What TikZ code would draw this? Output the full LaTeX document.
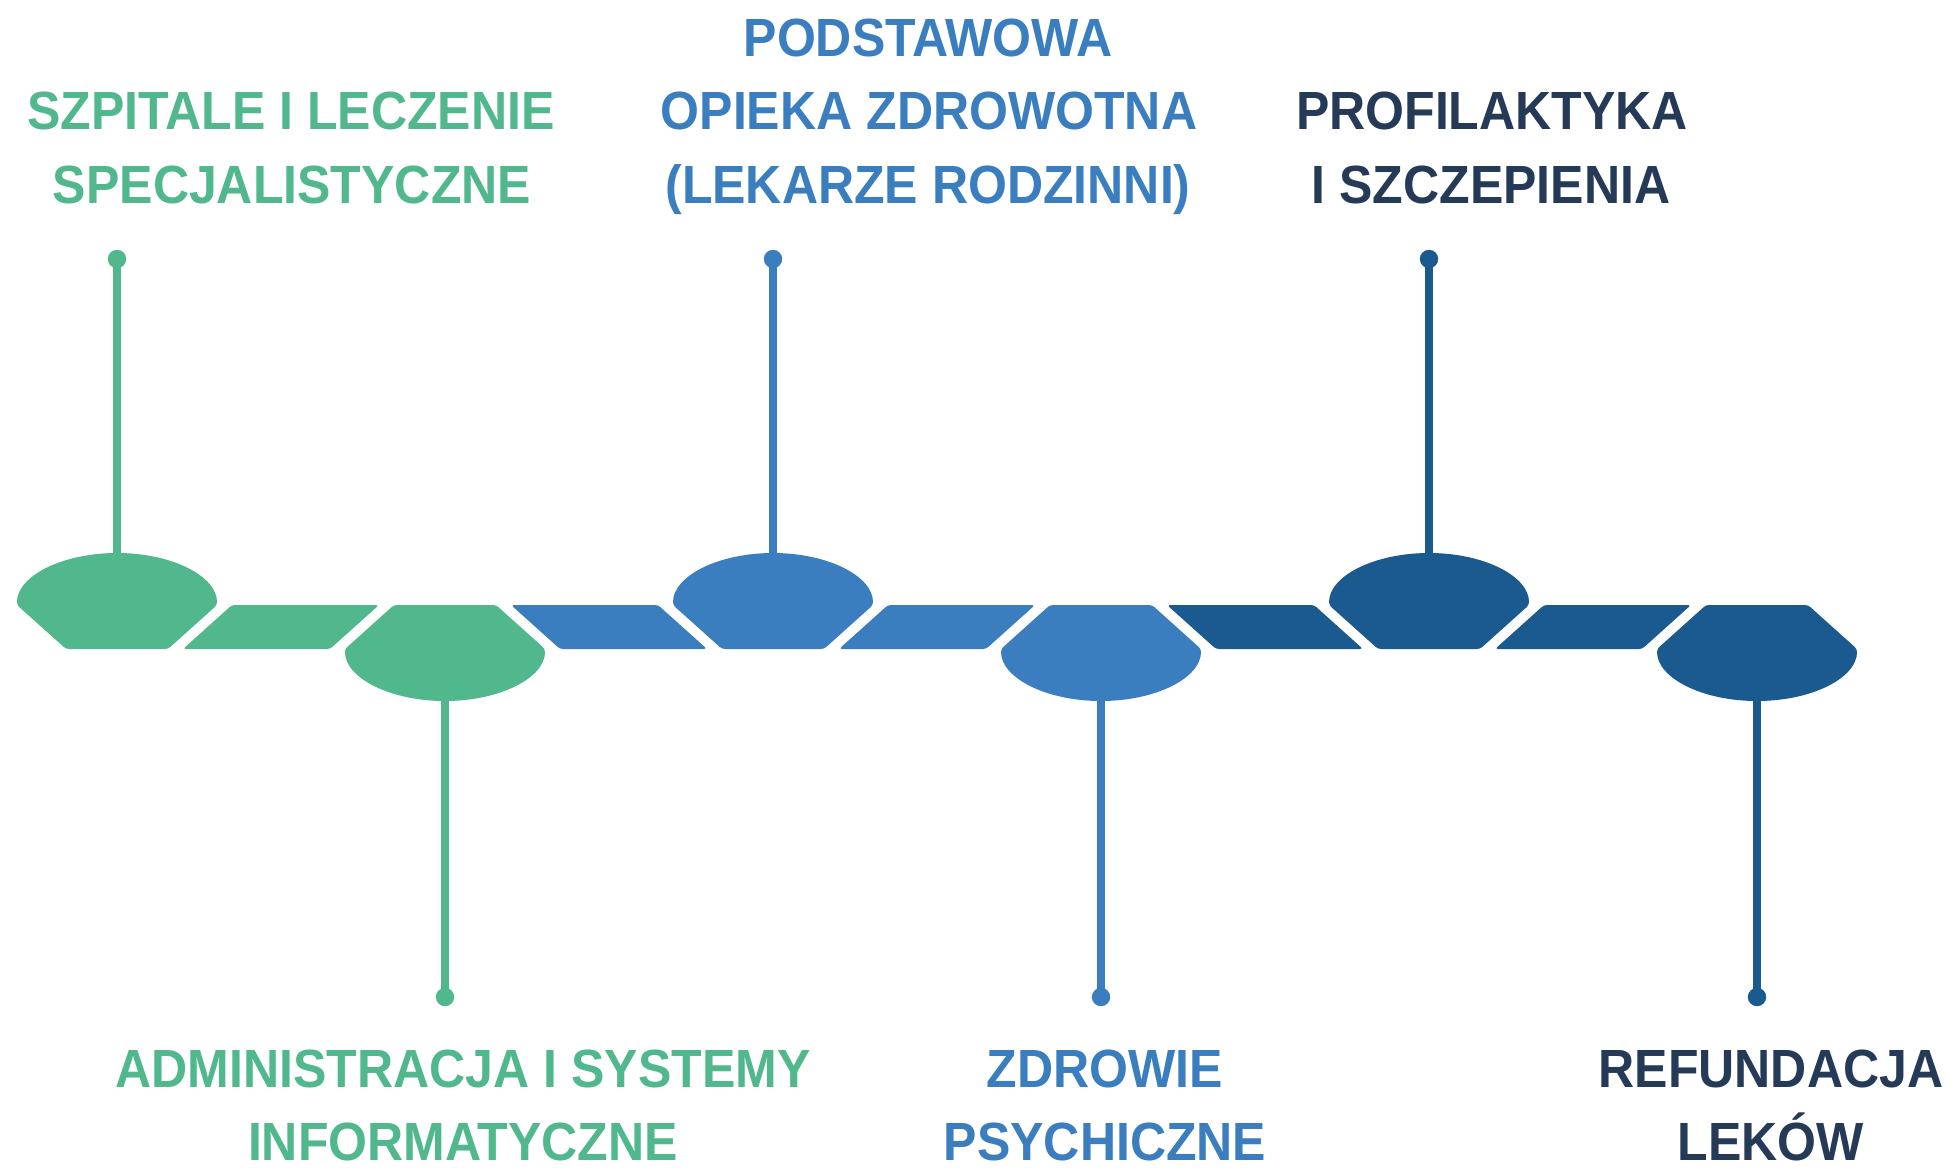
\documentclass[tikz,border=0pt]{standalone}
\usepackage{fontspec}
\newfontfamily\lblfont[FakeStretch=0.93]{Liberation Sans}
\definecolor{cgreen}{HTML}{50B88C}
\definecolor{cblue}{HTML}{3A7EBF}
\definecolor{cdark}{HTML}{1A5A8E}
\definecolor{tdark}{HTML}{243A56}
\tikzset{
  seg/.style={rounded corners=1.5pt},
  stem/.style={line width=3.6pt},
  dotnode/.style={circle, inner sep=0pt, minimum size=9.2pt},
  lbl/.style={anchor=base, inner sep=0pt, font=\lblfont\bfseries\fontsize{26.9pt}{32pt}\selectfont},
}
\newcommand{\topshape}[2]{% #1 centre x, #2 colour
  \fill[seg,#2] (#1-100,605) arc[start angle=180,end angle=0,x radius=50pt,y radius=26pt]
     -- (#1+51,649) -- (#1-51,649) -- cycle;}
\newcommand{\botshape}[2]{%
  \fill[seg,#2] (#1-51,605) -- (#1+51,605) -- (#1+100,649)
     arc[start angle=0,end angle=-180,x radius=50pt,y radius=26pt] -- cycle;}
\newcommand{\slashpar}[2]{% after a top shape
  \fill[seg,#2] (#1+115,605) -- (#1+262,605) -- (#1+213,649) -- (#1+66,649) -- cycle;}
\newcommand{\bslashpar}[2]{% after a bottom shape
  \fill[seg,#2] (#1+66,605) -- (#1+213,605) -- (#1+262,649) -- (#1+115,649) -- cycle;}
\begin{document}
\begin{tikzpicture}[x=0.5pt,y=-0.5pt]
\useasboundingbox (0,0) rectangle (1952,1167);
% band
\topshape{117}{cgreen}
\slashpar{117}{cgreen}
\botshape{445}{cgreen}
\bslashpar{445}{cblue}
\topshape{773}{cblue}
\slashpar{773}{cblue}
\botshape{1101}{cblue}
\bslashpar{1101}{cdark}
\topshape{1429}{cdark}
\slashpar{1429}{cdark}
\botshape{1757}{cdark}
% stems and dots
\coordinate (t1) at (117,553);
\coordinate (t2) at (445,701);
\coordinate (t3) at (773,553);
\coordinate (t4) at (1101,701);
\coordinate (t5) at (1429,553);
\coordinate (t6) at (1757,701);
\node[dotnode, fill=cgreen] (d1) at (117,259) {};
\node[dotnode, fill=cgreen] (d2) at (445,997) {};
\node[dotnode, fill=cblue] (d3) at (773,259) {};
\node[dotnode, fill=cblue] (d4) at (1101,997) {};
\node[dotnode, fill=cdark] (d5) at (1429,259) {};
\node[dotnode, fill=cdark] (d6) at (1757,997) {};
\draw[stem, cgreen] (t1) -- (d1.center);
\draw[stem, cgreen] (t2) -- (d2.center);
\draw[stem, cblue] (t3) -- (d3.center);
\draw[stem, cblue] (t4) -- (d4.center);
\draw[stem, cdark] (t5) -- (d5.center);
\draw[stem, cdark] (t6) -- (d6.center);
% labels
\node[lbl, text=cgreen] (l1a) at (291,129) {SZPITALE I LECZENIE};
\node[lbl, text=cgreen] (l1b) at (292,203) {SPECJALISTYCZNE};
\node[lbl, text=cblue] (l3a) at (928,56) {PODSTAWOWA};
\node[lbl, text=cblue] (l3b) at (929,129) {OPIEKA ZDROWOTNA};
\node[lbl, text=cblue] (l3c) at (928,203) {(LEKARZE RODZINNI)};
\node[lbl, text=tdark] (l5a) at (1492,129) {PROFILAKTYKA};
\node[lbl, text=tdark] (l5b) at (1491,203) {I SZCZEPIENIA};
\node[lbl, text=cgreen] (l2a) at (463,1087) {ADMINISTRACJA I SYSTEMY};
\node[lbl, text=cgreen] (l2b) at (463,1160) {INFORMATYCZNE};
\node[lbl, text=cblue] (l4a) at (1105,1087) {ZDROWIE};
\node[lbl, text=cblue] (l4b) at (1105,1160) {PSYCHICZNE};
\node[lbl, text=tdark] (l6a) at (1771,1087) {REFUNDACJA};
\node[lbl, text=tdark] (l6b) at (1771,1160) {LEKÓW};
\end{tikzpicture}
\end{document}
